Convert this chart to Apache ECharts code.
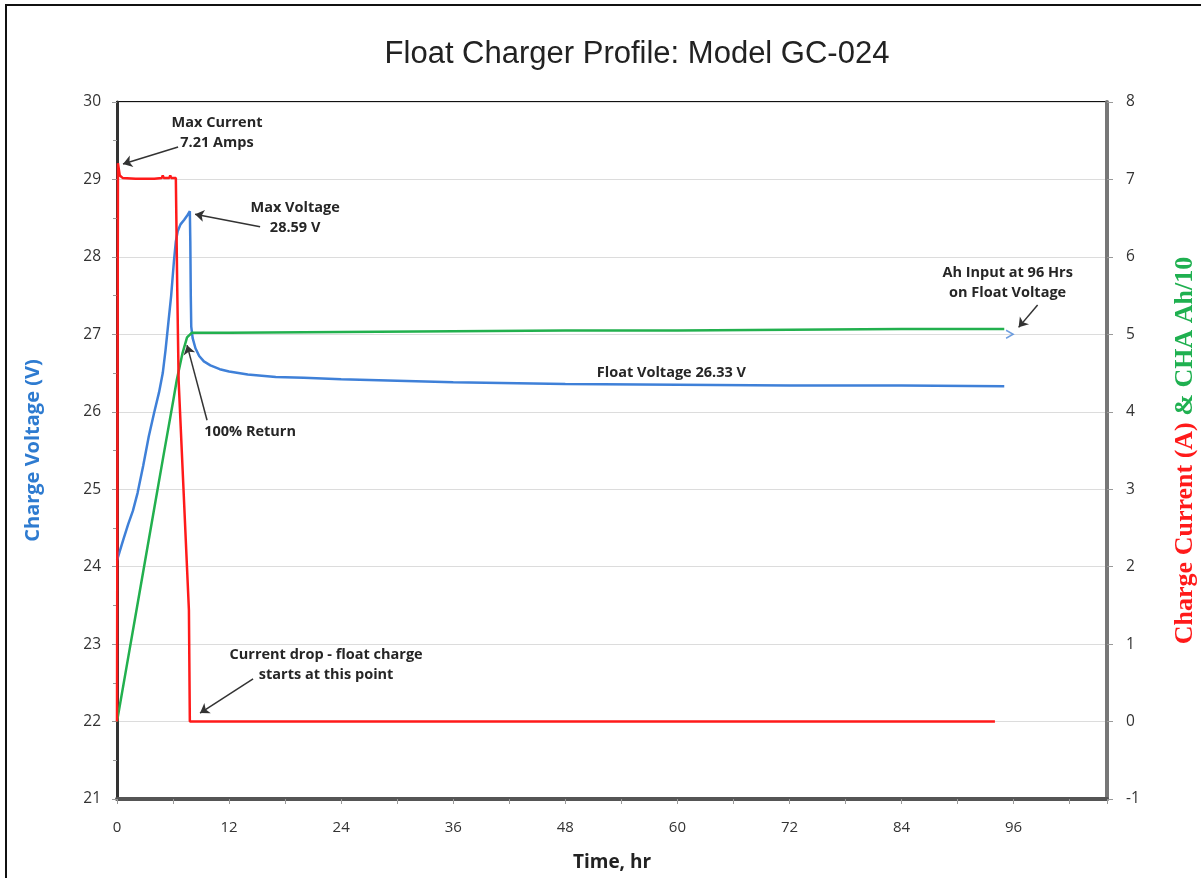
<!DOCTYPE html>
<html>
<head>
<meta charset="utf-8">
<script src="https://cdn.jsdelivr.net/npm/echarts@6/dist/echarts.min.js"></script>
<style>
html,body{margin:0;padding:0;background:#fff;overflow:hidden;}
#wrap{position:relative;width:1201px;height:878px;overflow:hidden;background:#fff;}
#frame{position:absolute;left:5px;top:4px;width:1300px;height:1000px;border-left:2px solid #111;border-top:2px solid #111;pointer-events:none;z-index:5;}
#chart{position:absolute;left:0;top:0;width:1201px;height:878px;}
</style>
</head>
<body>
<div id="wrap"><div id="chart"></div><div id="frame"></div></div>
<script>
// ---- data (time in hours) ----
var voltageTime = [0,0.3,0.7,1.2,1.7,2.2,2.8,3.4,4.0,4.5,4.9,5.2,5.5,5.8,6.1,6.3,6.5,6.8,7.2,7.5,7.8,7.85,7.9,7.95,8.1,8.4,8.8,9.3,10,11,12,14,17,20,24,30,36,48,60,72,84,95];
var voltage     = [24.08,24.2,24.36,24.55,24.72,24.95,25.3,25.68,26.0,26.25,26.5,26.8,27.15,27.5,27.95,28.2,28.33,28.42,28.48,28.53,28.59,28.2,27.5,27.1,26.95,26.82,26.72,26.65,26.6,26.55,26.52,26.48,26.45,26.44,26.42,26.4,26.38,26.36,26.35,26.34,26.34,26.33];

var currentTime = [0,0.1,0.3,0.6,2,4,4.8,4.9,5.0,5.6,5.7,5.8,6.3,6.45,6.6,7.7,7.8,9,9.2,9.4,10.5,10.7,11,12.5,12.7,13,30,60,94];
var current     = [0,7.21,7.05,7.02,7.01,7.01,7.02,7.05,7.02,7.02,7.05,7.02,7.02,5.6,4.4,1.44,0,0,0.02,0,0,0.02,0,0,0.02,0,0,0,0];

var ahTime = [0,1,2,3,4,5,6,6.4,7.0,7.5,8,12,24,36,48,60,72,84,95];
var ahDiv10 = [0,0.69,1.38,2.07,2.76,3.45,4.13,4.41,4.75,4.96,5.02,5.02,5.03,5.04,5.05,5.05,5.06,5.07,5.07];

var xTickLabels = [0,12,24,36,48,60,72,84,96];

// annotations (data units: hours, volts on left axis)
var annoLabels = [
  {text:'Max Current\n7.21 Amps', t:10.71, v:29.60},
  {text:'Max Voltage\n28.59 V', t:19.07, v:28.50},
  {text:'100% Return', t:14.25, v:25.74},
  {text:'Float Voltage 26.33 V', t:59.36, v:26.50},
  {text:'Current drop - float charge\nstarts at this point', t:22.39, v:22.73},
  {text:'Ah Input at 96 Hrs\non Float Voltage', t:95.36, v:27.66}
];
var annoArrows = [
  [[6.54,29.42],[0.64,29.20]],
  [[15.32,28.39],[8.36,28.55]],
  [[9.64,25.89],[7.5,26.86]],
  [[14.57,22.55],[8.89,22.11]],
  [[98.57,27.38],[96.54,27.09]]
];
var ahEndMarker = [[95.57,5.0]];

function zip(a,b){return a.map(function(x,i){return [x,b[i]];});}

var labelFont = 'Open Sans';
var chart = echarts.init(document.getElementById('chart'), null, {renderer:'canvas', width:1201, height:878});
var option = {
  animation:false,
  backgroundColor:'#fff',
  title:{
    text:'Float Charger Profile: Model GC-024',
    left:632, top:34, textAlign:'center',
    textStyle:{fontFamily:'Liberation Sans', fontSize:31, fontWeight:'normal', color:'#222'}
  },
  grid:{left:117, right:94, top:102, bottom:79, show:true, borderColor:'#111', borderWidth:2, backgroundColor:'transparent', outerBoundsMode:'none', containLabel:false},
  xAxis:{
    type:'value', min:0, max:106, interval:6,
    name:'Time, hr', nameLocation:'middle', nameGap:54,
    nameTextStyle:{fontFamily:labelFont, fontSize:19, fontWeight:'bold', color:'#222'},
    axisLine:{show:true, onZero:false, lineStyle:{color:'#555', width:4}},
    axisTick:{show:true, length:5, lineStyle:{color:'#999'}},
    splitLine:{show:false},
    axisLabel:{
      margin:21, fontFamily:labelFont, fontSize:15, color:'#333',
      formatter:function(v){return xTickLabels.indexOf(v)>=0 ? String(v) : '';}
    }
  },
  yAxis:[{
    type:'value', min:21, max:30, interval:1, position:'left',
    name:'Charge Voltage (V)', nameLocation:'middle', nameGap:74, nameRotate:90,
    nameTextStyle:{fontFamily:labelFont, fontSize:20, fontWeight:'bold', color:'#2e7bd0'},
    axisLine:{show:true, onZero:false, lineStyle:{color:'#333', width:3}},
    axisTick:{show:true, length:5, lineStyle:{color:'#999'}},
    minorTick:{show:true, splitNumber:2, length:4, lineStyle:{color:'#999'}},
    splitLine:{show:true, lineStyle:{color:'#dcdcdc', width:1}},
    axisLabel:{margin:16, fontFamily:labelFont, fontSize:15.5, color:'#333'}
  },{
    type:'value', min:-1, max:8, interval:1, position:'right',
    name:'{r|Charge Current (A) }{g|& CHA Ah/10}', nameLocation:'middle', nameGap:65, nameRotate:90,
    nameTextStyle:{
      rich:{
        r:{fontFamily:'Liberation Serif', fontSize:26, fontWeight:'bold', color:'#ff1a1a'},
        g:{fontFamily:'Liberation Serif', fontSize:26, fontWeight:'bold', color:'#1fb050'}
      }
    },
    axisLine:{show:true, onZero:false, lineStyle:{color:'#777', width:4}},
    axisTick:{show:true, length:6, lineStyle:{color:'#999'}},
    splitLine:{show:false},
    axisLabel:{margin:19, fontFamily:labelFont, fontSize:15.5, color:'#333'}
  }],
  series:[{
    name:'Voltage', type:'line', yAxisIndex:0, showSymbol:false, symbol:'none',
    data:zip(voltageTime, voltage),
    lineStyle:{color:'#3f80d8', width:2.5}, z:3,
    markPoint:{
      symbol:'circle', symbolSize:0, silent:true,
      label:{show:true, position:'inside', fontFamily:labelFont, fontSize:14.5, fontWeight:'bold', color:'#262626', lineHeight:20, align:'center'},
      data:annoLabels.map(function(a){return {coord:[a.t,a.v], value:a.text, label:{formatter:a.text}};})
    },
    markLine:{
      silent:true, symbol:['none','arrow'], symbolSize:9,
      label:{show:false},
      lineStyle:{color:'#333', width:1.5, type:'solid'},
      data:annoArrows.map(function(p){return [{coord:p[0]},{coord:p[1]}];})
    }
  },{
    name:'Ah/10', type:'line', yAxisIndex:1, showSymbol:false, symbol:'none',
    data:zip(ahTime, ahDiv10),
    lineStyle:{color:'#22b04e', width:2.5}, z:4
  },{
    name:'Current', type:'line', yAxisIndex:1, showSymbol:false, symbol:'none',
    data:zip(currentTime, current),
    lineStyle:{color:'#ff1a1a', width:2.5}, z:5
  },{
    name:'AhEnd', type:'scatter', yAxisIndex:1,
    data:ahEndMarker,
    symbol:'path://M0,0 L10,5 L0,10', symbolSize:[7,8],
    itemStyle:{color:'transparent', borderColor:'#4a86d8', borderWidth:1.5}, z:6
  }]
};
chart.setOption(option);
</script>
</body>
</html>
